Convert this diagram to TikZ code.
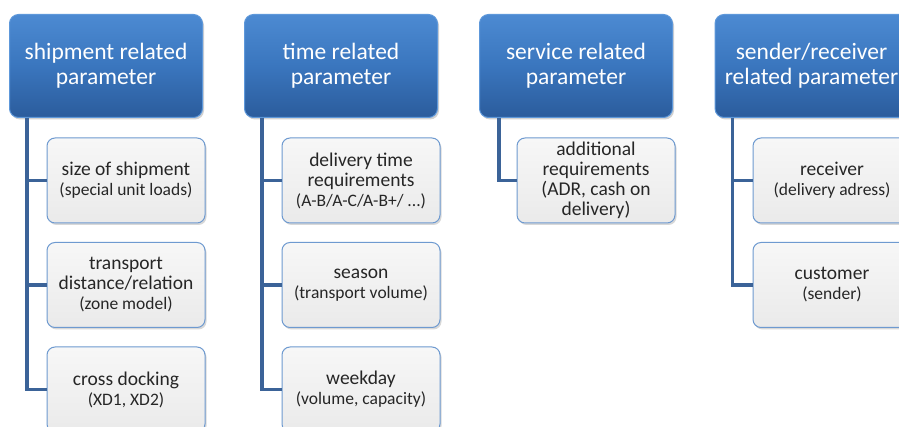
\documentclass[tikz,border=0pt]{standalone}
\usepackage{fontspec}
\setmainfont{Carlito}
\usetikzlibrary{shadows}
\definecolor{hdtop}{HTML}{4C8AD2}
\definecolor{hdmid}{HTML}{3A76BE}
\definecolor{hdbot}{HTML}{2B5C9C}
\definecolor{hdline}{HTML}{5E98DA}
\definecolor{chtop}{HTML}{F7F7F7}
\definecolor{chbot}{HTML}{EAEAEA}
\definecolor{chline}{HTML}{6E9AD0}
\definecolor{connc}{HTML}{3B6398}
\definecolor{txt}{HTML}{262626}
\tikzset{
  hdr/.style={draw=hdline, line width=1pt, rounded corners=9pt,
    top color=hdtop, bottom color=hdbot, middle color=hdmid,
    minimum width=193pt, minimum height=103pt, align=center,
    text=white, font=\fontsize{23.5}{25}\selectfont, inner sep=2pt,
    drop shadow={shadow xshift=1.5pt, shadow yshift=-2pt, opacity=0.35}},
  child/.style={draw=chline, line width=1pt, rounded corners=8pt,
    top color=chtop, bottom color=chbot,
    minimum width=158pt, minimum height=85pt, align=center,
    text=txt, font=\fontsize{19.5}{20}\selectfont, inner sep=2pt,
    drop shadow={shadow xshift=1.5pt, shadow yshift=-2pt, opacity=0.3}},
  conn/.style={draw=connc, line width=3.5pt},
}
\newcommand{\subt}[1]{{\fontsize{17.5}{20}\selectfont #1}}
\begin{document}
\begin{tikzpicture}[x=1pt,y=-1pt]
\useasboundingbox (0,0) rectangle (899,427);
\clip (0,0) rectangle (899,427);
\fill[white] (0,0) rectangle (899,427);
\node[hdr] (h1) at (106,66) {shipment related\\parameter};
\node[hdr] (h2) at (341,66) {time related\\parameter};
\node[hdr] (h3) at (576,66) {service related\\parameter};
\node[hdr] (h4) at (811.5,66) {sender/receiver\\related parameter};

\coordinate (v1) at ([xshift=18pt]h1.south west);
\coordinate (v2) at ([xshift=18pt]h2.south west);
\coordinate (v3) at ([xshift=20pt]h3.south west);
\coordinate (v4) at ([xshift=18pt]h4.south west);

\node[child] (c11) at (126,180.5) {size of shipment\\\subt{(special unit loads)}};
\node[child] (c12) at (126,285) {transport\\distance/relation\\\subt{(zone model)}};
\node[child] (c13) at (126,389.5) {cross docking\\\subt{(XD1, XD2)}};

\node[child] (c21) at (361,180.5) {delivery time\\requirements\\\subt{(A-B/A-C/A-B+/ ...)}};
\node[child] (c22) at (361,285) {season\\\subt{(transport volume)}};
\node[child] (c23) at (361,389.5) {weekday\\\subt{(volume, capacity)}};

\node[child] (c31) at (596,180.5) {additional\\requirements\\(ADR, cash on\\delivery)};

\node[child] (c41) at (832,180.5) {receiver\\\subt{(delivery adress)}};
\node[child] (c42) at (832,285) {customer\\\subt{(sender)}};

\draw[conn] (v1) |- (c11.west);
\draw[conn] (v1) |- (c12.west);
\draw[conn] (v1) |- (c13.west);
\draw[conn] (v2) |- (c21.west);
\draw[conn] (v2) |- (c22.west);
\draw[conn] (v2) |- (c23.west);
\draw[conn] (v3) |- (c31.west);
\draw[conn] (v4) |- (c41.west);
\draw[conn] (v4) |- (c42.west);
\end{tikzpicture}
\end{document}
